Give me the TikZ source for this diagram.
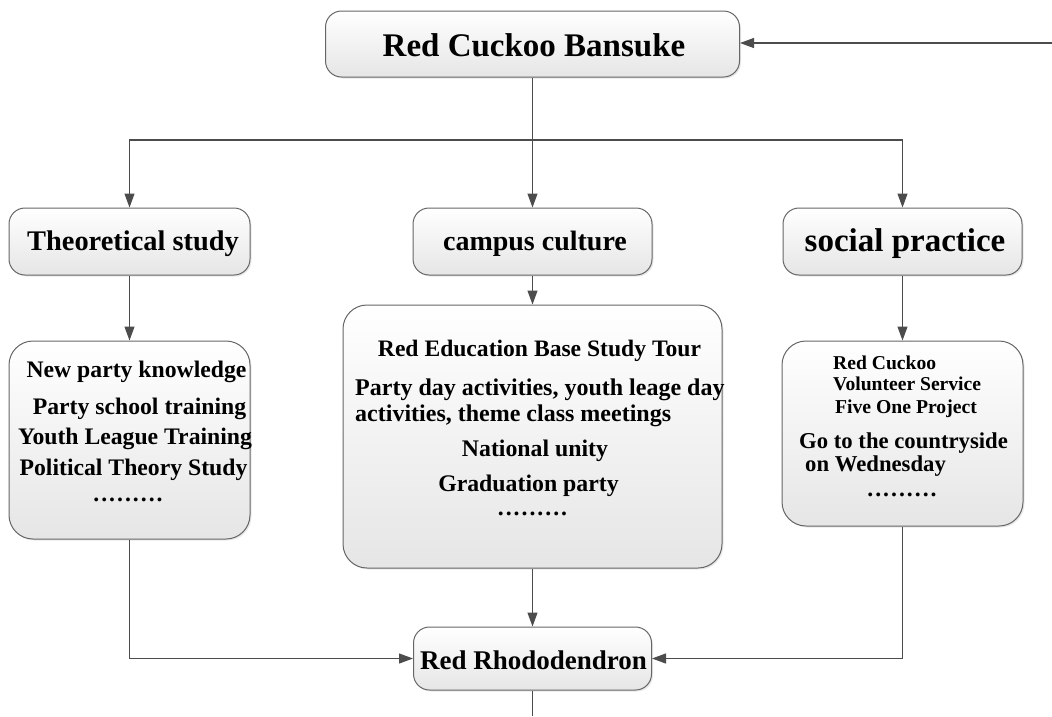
\documentclass[tikz,border=0pt]{standalone}
\usepackage{fontspec}
\setmainfont{Liberation Serif}
\usetikzlibrary{arrows.meta,shadows}
\newcommand\fsz[1]{\fontsize{#1}{#1}\selectfont\bfseries}
\newcommand\dotrow{.\kern2pt.\kern2pt.\kern2pt.\kern2pt.\kern2pt.\kern2pt.\kern2pt.\kern2pt.}
\begin{document}
\begin{tikzpicture}[x=1pt,y=-1pt,
  box/.style={draw=black!60, line width=1pt, rounded corners=16pt, top color=white, bottom color=black!10,
     drop shadow={opacity=0.18, shadow xshift=1.5pt, shadow yshift=-1.5pt}, inner sep=0pt, text=black},
  bigbox/.style={box, rounded corners=24pt},
  txt/.style={inner sep=0pt, text=black},
  conn/.style={draw=black!70, line width=1.2pt},
  arr/.style={conn, -{Triangle[length=14pt,width=10pt]}}]
\useasboundingbox (0,0) rectangle (1052,716);
% header boxes
\node[box, minimum width=414pt, minimum height=66pt] (top) at (532.5,44) {};
\node[txt, font=\fsz{33}] (topt) at (534,45) {Red Cuckoo Bansuke};
\node[box, minimum width=241pt, minimum height=67pt] (theo) at (129.5,241.5) {};
\node[txt, font=\fsz{28.4}] (theot) at (133,244) {Theoretical study};
\node[box, minimum width=239pt, minimum height=67pt] (camp) at (532.5,241.5) {};
\node[txt, font=\fsz{28}] (campt) at (535,244) {campus culture};
\node[box, minimum width=239pt, minimum height=67pt] (soc) at (902.5,241.5) {};
\node[txt, font=\fsz{33}] (soct) at (905,244) {social practice};
% body boxes
\node[bigbox, minimum width=241pt, minimum height=198pt] (theob) at (129.5,440) {};
\node[bigbox, minimum width=379pt, minimum height=263pt] (campb) at (532.5,436.5) {};
\node[bigbox, minimum width=241pt, minimum height=185pt] (socb) at (902.5,433.5) {};
% bottom box
\node[box, minimum width=238pt, minimum height=63pt] (rhodo) at (532.5,658.5) {};
\node[txt, font=\fsz{27}] (rhodot) at (533.5,660) {Red Rhododendron};
% left body text
\node[txt, font=\fsz{23.7}] (l1) at (136.5,372) {New party knowledge};
\node[txt, font=\fsz{23.7}] (l2) at (139.5,409) {Party school training};
\node[txt, font=\fsz{23.7}] (l3) at (135,439) {Youth League Training};
\node[txt, font=\fsz{23.7}] (l4) at (133.5,470) {Political Theory Study};
\node[txt, font=\fsz{23.7}, anchor=base] (l5) at (128,501) {\dotrow};
% middle body text
\node[txt, font=\fsz{23.6}] (m1) at (539.5,351) {Red Education Base Study Tour};
\node[txt, font=\fsz{24}, anchor=west] (m2) at (355,390) {Party day activities, youth leage day};
\node[txt, font=\fsz{24}, anchor=west] (m3) at (355,416) {activities, theme class meetings};
\node[txt, font=\fsz{23.8}] (m4) at (535,451) {National unity};
\node[txt, font=\fsz{23.8}] (m5) at (528.5,486) {Graduation party};
\node[txt, font=\fsz{23.7}, anchor=base] (m6) at (532.5,515) {\dotrow};
% right body text
\node[txt, font=\fsz{19.6}, anchor=west] (r1) at (833,363) {Red Cuckoo};
\node[txt, font=\fsz{19.6}, anchor=west] (r2) at (833,384) {Volunteer Service};
\node[txt, font=\fsz{19.7}] (r3) at (906,409) {Five One Project};
\node[txt, font=\fsz{22.7}, anchor=west] (r4) at (799,443) {Go to the countryside};
\node[txt, font=\fsz{22.7}, anchor=west] (r5) at (805,466) {on Wednesday};
\node[txt, font=\fsz{23.7}, anchor=base] (r6) at (902,496) {\dotrow};
% connectors
\coordinate (in) at (1052,43);
\coordinate (hub) at (532.5,140);
\coordinate (out) at (532.5,716);
\draw[arr] (in) -- (top.east |- in);
\draw[arr] (top.south) -- (camp.north);
\draw[arr] (hub) -| (theo.north);
\draw[arr] (hub) -| (soc.north);
\draw[arr] (theo.south) -- (theob.north);
\draw[arr] (camp.south) -- (campb.north);
\draw[arr] (soc.south) -- (socb.north);
\draw[arr] (theob.south) |- (rhodo.west);
\draw[arr] (socb.south) |- (rhodo.east);
\draw[arr] (campb.south) -- (rhodo.north);
\draw[conn] (rhodo.south) -- (out);
\end{tikzpicture}
\end{document}
